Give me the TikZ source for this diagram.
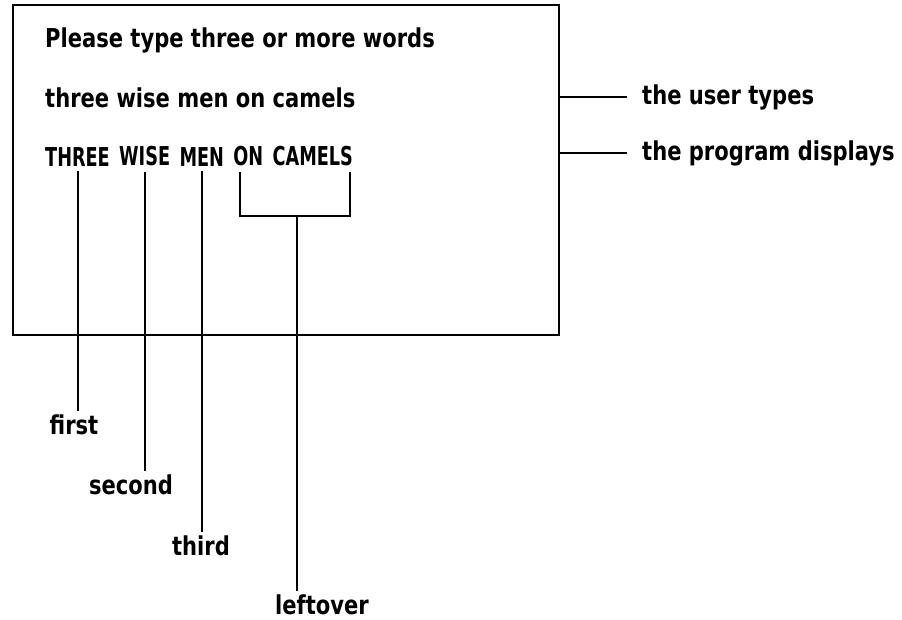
\documentclass[tikz,border=0pt]{standalone}
\usepackage{fontspec}
\newfontfamily\scrfont{DejaVu Sans}[FakeStretch=0.81]
\newfontfamily\capfont{DejaVu Sans}[FakeStretch=0.68]
\usetikzlibrary{positioning, calc}

\tikzset{
    scr/.style={font=\scrfont\bfseries\fontsize{26}{30}\selectfont, inner xsep=0pt, inner ysep=5pt, anchor=base west},
    caps/.style={scr, font=\capfont\bfseries\fontsize{26}{30}\selectfont},
    lbl/.style={font=\scrfont\bfseries\fontsize{26}{30}\selectfont, inner sep=3pt},
    wire/.style={line width=2pt}
}

\begin{document}
\begin{tikzpicture}[x=1pt, y=-1pt]
                \useasboundingbox (0,0) rectangle (902,619);

                % Screen
                \node[draw, wire, minimum width=546pt, minimum height=330pt, anchor=north west] (screen) at (12,4) {};

                % Screen lines
                \node[scr] (prompt) at (45,47) {Please type three or more words};
                \node[scr] (input) at (45,107) {three wise men on camels};
                \node[caps] (w1) at (45,166) {THREE};
                \node[caps, right=9pt of w1] (w2) {WISE};
                \node[caps, right=9pt of w2] (w3) {MEN};
                \node[caps, right=9pt of w3] (w4) {ON};
                \node[caps, right=9pt of w4] (w5) {CAMELS};

                % Notes on the right
                \node[lbl, anchor=west, inner xsep=15pt] (user) at (627,97) {the user types};
                \node[lbl, anchor=west, inner xsep=15pt] (shown) at (627,153) {the program displays};
                \draw[wire] (screen.east |- user.west) -- (user.west);
                \draw[wire] (screen.east |- shown.west) -- (shown.west);

                % Word names
                \node[lbl, anchor=base] (first) at (74,434) {first};
                \node[lbl, anchor=base] (second) at (131,494) {second};
                \node[lbl, anchor=base] (third) at (201,555) {third};
                \node[lbl, anchor=base] (leftover) at (322,614) {leftover};

                \draw[wire] (w1.south) -- (w1.south |- first.north);
                \draw[wire] (w2.south) -- (w2.south |- second.north);
                \draw[wire] (w3.south) -- (w3.south |- third.north);
                \draw[wire] ($(w4.south west)+(7,0)$) -- ++(0,44) coordinate (bl)
                    -| ($(w5.south east)+(-3,0)$);
                \coordinate (fork) at ($(bl)!0.5!(bl -| w5.south east)$);
                \draw[wire] (fork) -- (fork |- leftover.north);
            \end{tikzpicture}
\end{document}
